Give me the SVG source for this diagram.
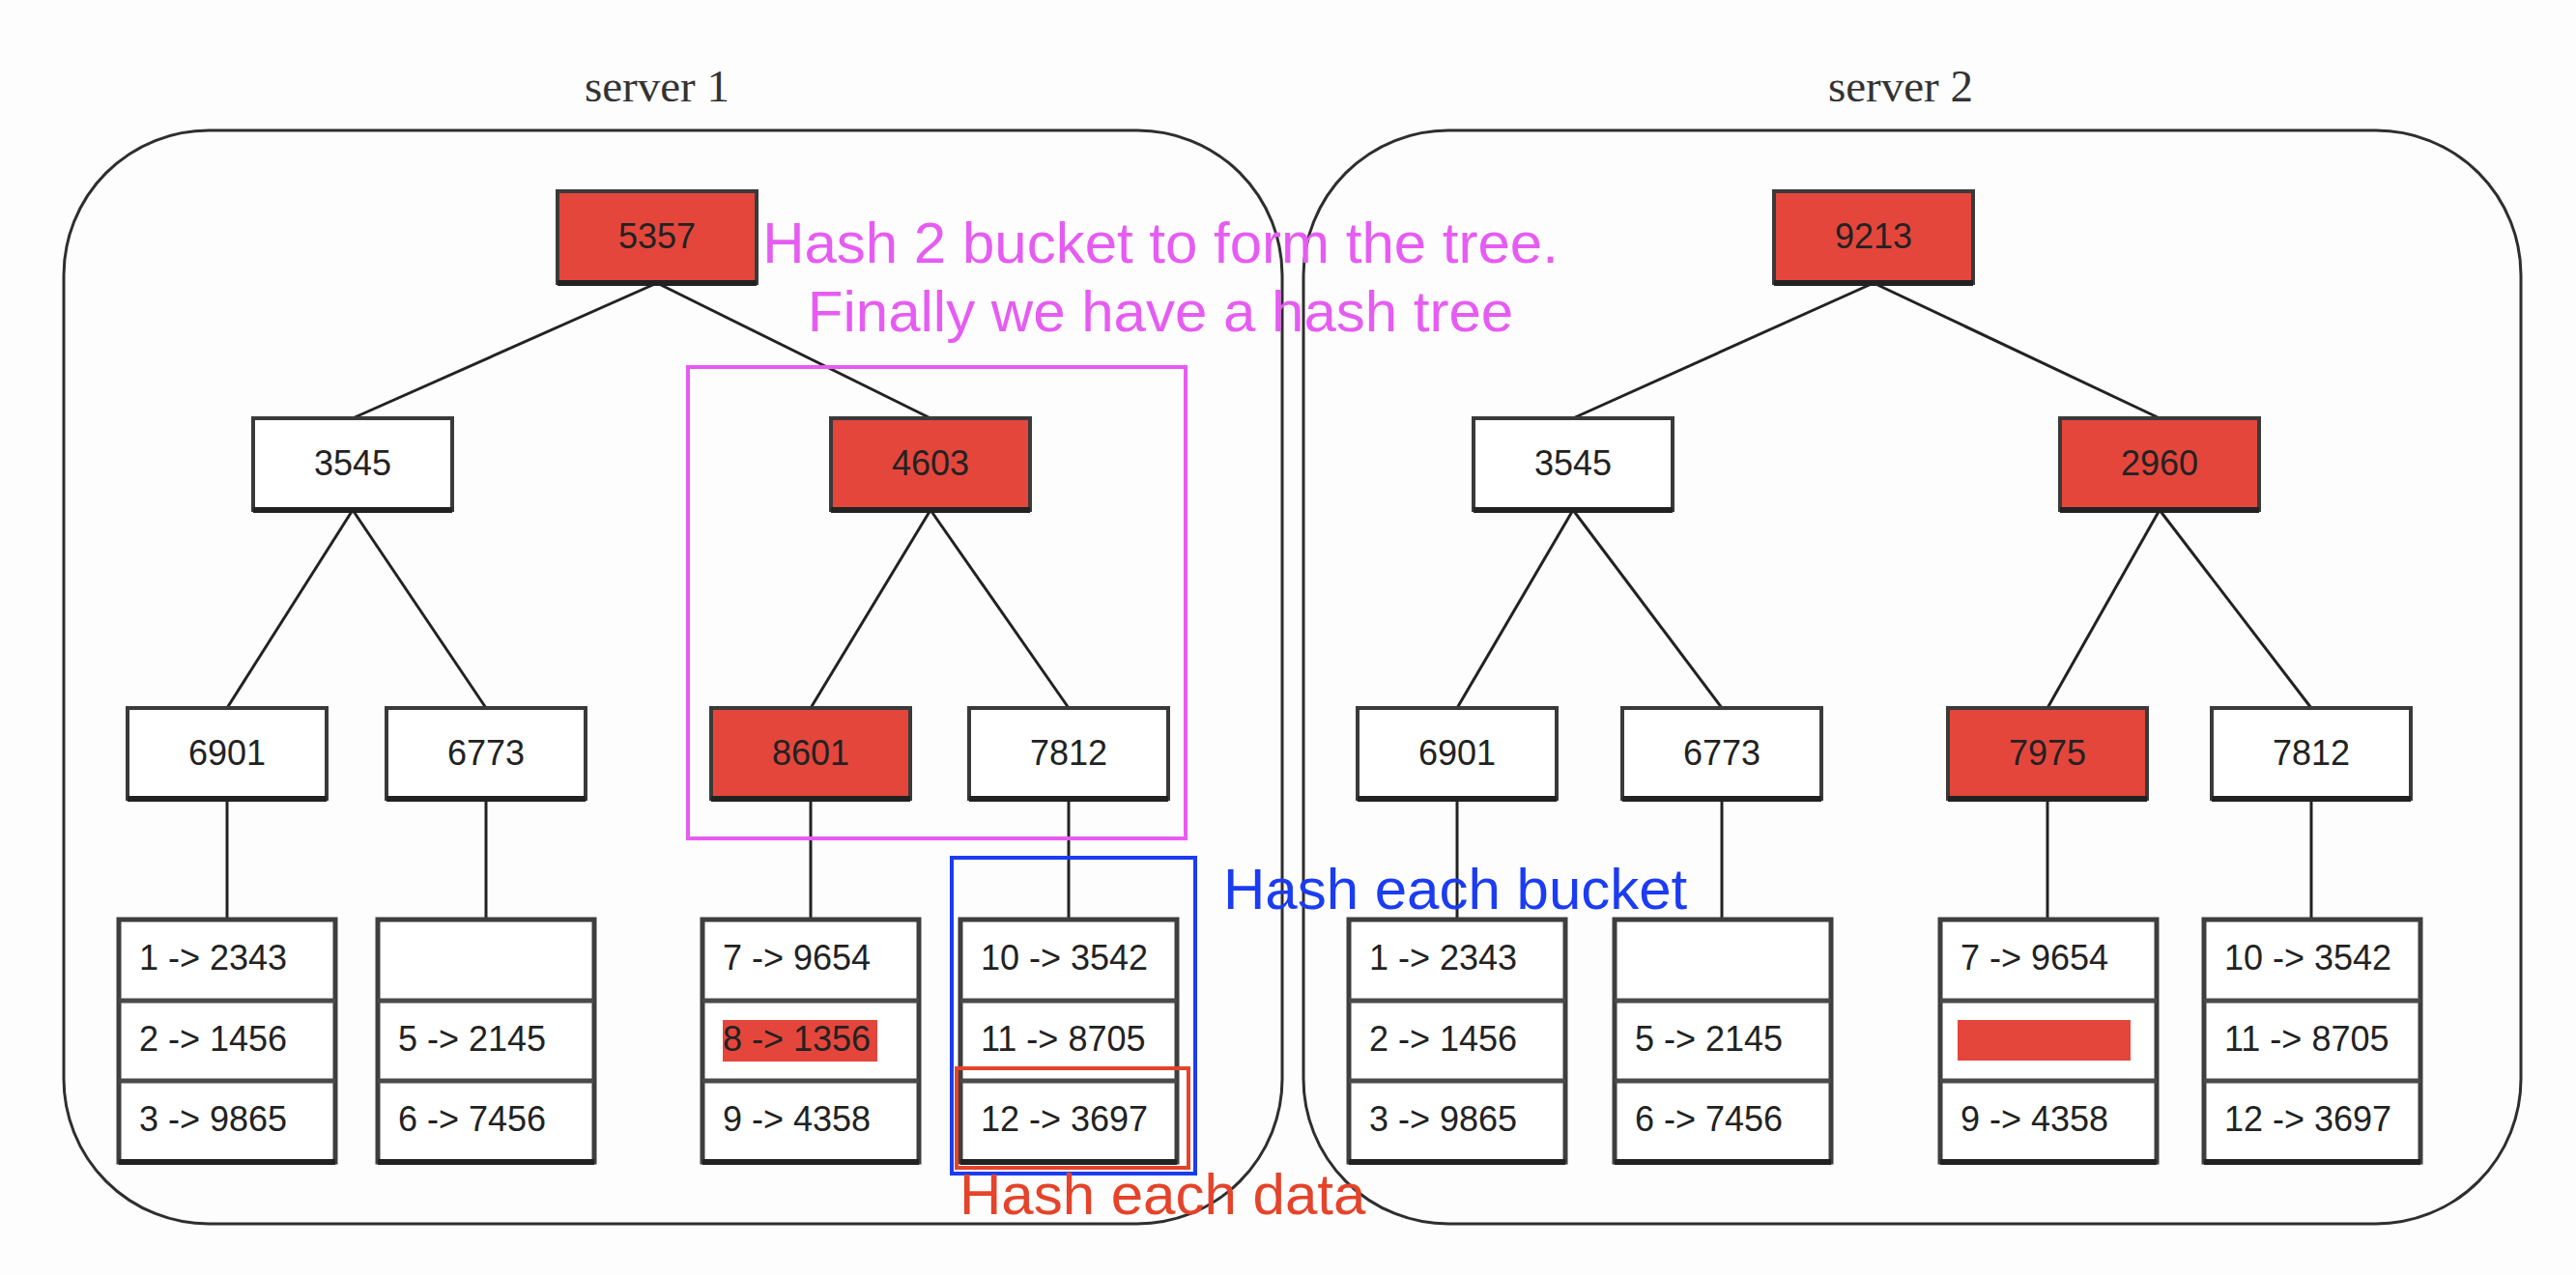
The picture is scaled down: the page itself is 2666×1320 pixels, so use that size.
<svg xmlns="http://www.w3.org/2000/svg" width="2666" height="1320" viewBox="0 0 2666 1320">
<style>
.bg{fill:#FDFDFD}
.srv{fill:none;stroke:#2E2E2E;stroke-width:3}
.lbl{font-family:"Liberation Serif",serif;font-size:47px;fill:#333;text-anchor:middle}
.n{stroke:#3A3A3A;stroke-width:4}
.w{fill:#FFFFFF}
.r{fill:#E4463C}
.shade{stroke:#222;stroke-width:6}
.nt{font-family:"Liberation Sans",Arial,sans-serif;font-size:36px;fill:#222;text-anchor:middle}
.bk{fill:#FFFFFF;stroke:#3E3E3E;stroke-width:5}
.div{stroke:#4A4A4A;stroke-width:5}
.bt{font-family:"Liberation Sans",Arial,sans-serif;font-size:36px;fill:#222}
.con line{stroke:#222;stroke-width:3}
.ann{font-family:"Liberation Sans",Arial,sans-serif;font-size:60px}
</style>
<rect class="bg" x="0" y="0" width="2666" height="1320"/>

<g id="server1">
<rect class="srv" x="66" y="135" width="1261" height="1132" rx="150" ry="150"/>
<text class="lbl" x="680" y="105">server 1</text>
</g>
<g id="server2">
<rect class="srv" x="1349" y="135" width="1260" height="1132" rx="150" ry="150"/>
<text class="lbl" x="1967" y="105">server 2</text>
</g>

<g id="connectors" class="con">
<line x1="680" y1="293" x2="365" y2="433"/>
<line x1="680" y1="293" x2="963" y2="433"/>
<line x1="365" y1="528" x2="235" y2="733"/>
<line x1="365" y1="528" x2="503" y2="733"/>
<line x1="963" y1="528" x2="839" y2="733"/>
<line x1="963" y1="528" x2="1106" y2="733"/>
<line x1="235" y1="827" x2="235" y2="952"/>
<line x1="503" y1="827" x2="503" y2="952"/>
<line x1="839" y1="827" x2="839" y2="952"/>
<line x1="1106" y1="827" x2="1106" y2="952"/>
<line x1="1939" y1="293" x2="1628" y2="433"/>
<line x1="1939" y1="293" x2="2235" y2="433"/>
<line x1="1628" y1="528" x2="1508" y2="733"/>
<line x1="1628" y1="528" x2="1782" y2="733"/>
<line x1="2235" y1="528" x2="2119" y2="733"/>
<line x1="2235" y1="528" x2="2392" y2="733"/>
<line x1="1508" y1="827" x2="1508" y2="952"/>
<line x1="1782" y1="827" x2="1782" y2="952"/>
<line x1="2119" y1="827" x2="2119" y2="952"/>
<line x1="2392" y1="827" x2="2392" y2="952"/>
</g>

<!-- server 1 nodes -->
<g id="s1-5357"><rect class="n r" x="577" y="198" width="206" height="95"/><line class="shade" x1="577" y1="293" x2="783" y2="293"/><text class="nt" x="680" y="257">5357</text></g>
<g id="s1-3545"><rect class="n w" x="262" y="433" width="206" height="95"/><line class="shade" x1="262" y1="528" x2="468" y2="528"/><text class="nt" x="365" y="492">3545</text></g>
<g id="s1-4603"><rect class="n r" x="860" y="433" width="206" height="95"/><line class="shade" x1="860" y1="528" x2="1066" y2="528"/><text class="nt" x="963" y="492">4603</text></g>
<g id="s1-6901"><rect class="n w" x="132" y="733" width="206" height="94"/><line class="shade" x1="132" y1="827" x2="338" y2="827"/><text class="nt" x="235" y="792">6901</text></g>
<g id="s1-6773"><rect class="n w" x="400" y="733" width="206" height="94"/><line class="shade" x1="400" y1="827" x2="606" y2="827"/><text class="nt" x="503" y="792">6773</text></g>
<g id="s1-8601"><rect class="n r" x="736" y="733" width="206" height="94"/><line class="shade" x1="736" y1="827" x2="942" y2="827"/><text class="nt" x="839" y="792">8601</text></g>
<g id="s1-7812"><rect class="n w" x="1003" y="733" width="206" height="94"/><line class="shade" x1="1003" y1="827" x2="1209" y2="827"/><text class="nt" x="1106" y="792">7812</text></g>

<g id="s1-bucket1"><rect class="bk" x="123" y="952" width="224" height="251"/><line class="div" x1="123" y1="1036" x2="347" y2="1036"/><line class="div" x1="123" y1="1119" x2="347" y2="1119"/><line class="shade" x1="123" y1="1203" x2="347" y2="1203"/>
<text class="bt" x="144" y="1004">1 -&gt; 2343</text><text class="bt" x="144" y="1088">2 -&gt; 1456</text><text class="bt" x="144" y="1171">3 -&gt; 9865</text></g>
<g id="s1-bucket2"><rect class="bk" x="391" y="952" width="224" height="251"/><line class="div" x1="391" y1="1036" x2="615" y2="1036"/><line class="div" x1="391" y1="1119" x2="615" y2="1119"/><line class="shade" x1="391" y1="1203" x2="615" y2="1203"/>
<text class="bt" x="412" y="1088">5 -&gt; 2145</text><text class="bt" x="412" y="1171">6 -&gt; 7456</text></g>
<g id="s1-bucket3"><rect class="bk" x="727" y="952" width="224" height="251"/><line class="div" x1="727" y1="1036" x2="951" y2="1036"/><line class="div" x1="727" y1="1119" x2="951" y2="1119"/><line class="shade" x1="727" y1="1203" x2="951" y2="1203"/>
<rect class="r" x="748" y="1056" width="160" height="43"/>
<text class="bt" x="748" y="1004">7 -&gt; 9654</text><text class="bt" x="748" y="1088">8 -&gt; 1356</text><text class="bt" x="748" y="1171">9 -&gt; 4358</text></g>
<g id="s1-bucket4"><rect class="bk" x="994" y="952" width="224" height="251"/><line class="div" x1="994" y1="1036" x2="1218" y2="1036"/><line class="div" x1="994" y1="1119" x2="1218" y2="1119"/><line class="shade" x1="994" y1="1203" x2="1218" y2="1203"/>
<text class="bt" x="1015" y="1004">10 -&gt; 3542</text><text class="bt" x="1015" y="1088">11 -&gt; 8705</text><text class="bt" x="1015" y="1171">12 -&gt; 3697</text></g>

<!-- server 2 nodes -->
<g id="s2-9213"><rect class="n r" x="1836" y="198" width="206" height="95"/><line class="shade" x1="1836" y1="293" x2="2042" y2="293"/><text class="nt" x="1939" y="257">9213</text></g>
<g id="s2-3545"><rect class="n w" x="1525" y="433" width="206" height="95"/><line class="shade" x1="1525" y1="528" x2="1731" y2="528"/><text class="nt" x="1628" y="492">3545</text></g>
<g id="s2-2960"><rect class="n r" x="2132" y="433" width="206" height="95"/><line class="shade" x1="2132" y1="528" x2="2338" y2="528"/><text class="nt" x="2235" y="492">2960</text></g>
<g id="s2-6901"><rect class="n w" x="1405" y="733" width="206" height="94"/><line class="shade" x1="1405" y1="827" x2="1611" y2="827"/><text class="nt" x="1508" y="792">6901</text></g>
<g id="s2-6773"><rect class="n w" x="1679" y="733" width="206" height="94"/><line class="shade" x1="1679" y1="827" x2="1885" y2="827"/><text class="nt" x="1782" y="792">6773</text></g>
<g id="s2-7975"><rect class="n r" x="2016" y="733" width="206" height="94"/><line class="shade" x1="2016" y1="827" x2="2222" y2="827"/><text class="nt" x="2119" y="792">7975</text></g>
<g id="s2-7812"><rect class="n w" x="2289" y="733" width="206" height="94"/><line class="shade" x1="2289" y1="827" x2="2495" y2="827"/><text class="nt" x="2392" y="792">7812</text></g>

<g id="s2-bucket1"><rect class="bk" x="1396" y="952" width="224" height="251"/><line class="div" x1="1396" y1="1036" x2="1620" y2="1036"/><line class="div" x1="1396" y1="1119" x2="1620" y2="1119"/><line class="shade" x1="1396" y1="1203" x2="1620" y2="1203"/>
<text class="bt" x="1417" y="1004">1 -&gt; 2343</text><text class="bt" x="1417" y="1088">2 -&gt; 1456</text><text class="bt" x="1417" y="1171">3 -&gt; 9865</text></g>
<g id="s2-bucket2"><rect class="bk" x="1671" y="952" width="224" height="251"/><line class="div" x1="1671" y1="1036" x2="1895" y2="1036"/><line class="div" x1="1671" y1="1119" x2="1895" y2="1119"/><line class="shade" x1="1671" y1="1203" x2="1895" y2="1203"/>
<text class="bt" x="1692" y="1088">5 -&gt; 2145</text><text class="bt" x="1692" y="1171">6 -&gt; 7456</text></g>
<g id="s2-bucket3"><rect class="bk" x="2008" y="952" width="224" height="251"/><line class="div" x1="2008" y1="1036" x2="2232" y2="1036"/><line class="div" x1="2008" y1="1119" x2="2232" y2="1119"/><line class="shade" x1="2008" y1="1203" x2="2232" y2="1203"/>
<rect class="r" x="2026" y="1056" width="179" height="42"/>
<text class="bt" x="2029" y="1004">7 -&gt; 9654</text><text class="bt" x="2029" y="1171">9 -&gt; 4358</text></g>
<g id="s2-bucket4"><rect class="bk" x="2281" y="952" width="224" height="251"/><line class="div" x1="2281" y1="1036" x2="2505" y2="1036"/><line class="div" x1="2281" y1="1119" x2="2505" y2="1119"/><line class="shade" x1="2281" y1="1203" x2="2505" y2="1203"/>
<text class="bt" x="2302" y="1004">10 -&gt; 3542</text><text class="bt" x="2302" y="1088">11 -&gt; 8705</text><text class="bt" x="2302" y="1171">12 -&gt; 3697</text></g>

<!-- annotations -->
<g id="ann-tree">
<rect x="712" y="380" width="515" height="488" fill="none" stroke="#E65CF2" stroke-width="4"/>
<text class="ann" fill="#E65CF2" text-anchor="middle" x="1201" y="272">Hash 2 bucket to form the tree.</text>
<text class="ann" fill="#E65CF2" text-anchor="middle" x="1201" y="343">Finally we have a hash tree</text>
</g>
<g id="ann-bucket">
<rect x="985" y="888" width="252" height="327" fill="none" stroke="#1B3CF2" stroke-width="4"/>
<text class="ann" fill="#1B3CF2" x="1266" y="941">Hash each bucket</text>
</g>
<g id="ann-data">
<rect x="990" y="1106" width="240" height="103" fill="none" stroke="#E5432A" stroke-width="4"/>
<text class="ann" fill="#E5432A" x="993" y="1257">Hash each data</text>
</g>
</svg>
